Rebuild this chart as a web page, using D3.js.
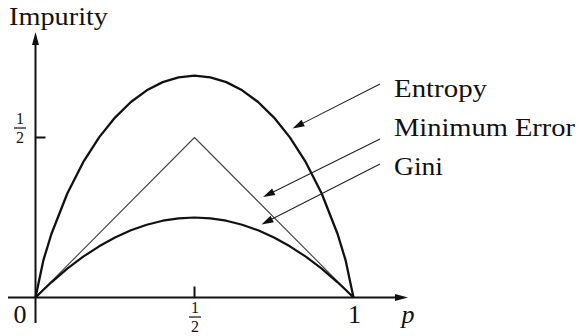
<!DOCTYPE html>
<html>
<head>
<meta charset="utf-8">
<script src="https://cdn.jsdelivr.net/npm/d3@7"></script>
<style>
  html, body { margin: 0; padding: 0; background: #fff; }
  svg { display: block; }
</style>
</head>
<body>
<svg id="chart" width="578" height="336"></svg>
<script>
// Probability of class 1
const pValues = [0, 0.025, 0.05, 0.1, 0.15, 0.2, 0.25, 0.3, 0.35, 0.4, 0.45, 0.5,
                 0.55, 0.6, 0.65, 0.7, 0.75, 0.8, 0.85, 0.9, 0.95, 0.975, 1];
// Entropy impurity (nats)
const entropyValues = [0, 0.1169, 0.1985, 0.3251, 0.4227, 0.5004, 0.5623, 0.6109, 0.6474, 0.6730, 0.6881, 0.6931,
                       0.6881, 0.6730, 0.6474, 0.6109, 0.5623, 0.5004, 0.4227, 0.3251, 0.1985, 0.1169, 0];
// Gini impurity
const giniValues = [0, 0.0244, 0.0475, 0.09, 0.1275, 0.16, 0.1875, 0.21, 0.2275, 0.24, 0.2475, 0.25,
                    0.2475, 0.24, 0.2275, 0.21, 0.1875, 0.16, 0.1275, 0.09, 0.0475, 0.0244, 0];
// Minimum (misclassification) error
const errorP = [0, 0.5, 1];
const errorValues = [0, 0.5, 0];

const seriesNames = ["Entropy", "Minimum Error", "Gini"];
const axisTitleY = "Impurity";
const axisTitleX = "p";

const FONT = "Liberation Serif";

const svg = d3.select("#chart");

const x = d3.scaleLinear().domain([0, 1]).range([35.5, 353.5]);
const y = d3.scaleLinear().domain([0, 0.5]).range([297.5, 137.5]);

function arrowHead(g, x1, y1, x2, y2, len, half) {
  const dx = x2 - x1, dy = y2 - y1, L = Math.hypot(dx, dy);
  const ux = dx / L, uy = dy / L;
  const bx = x2 - ux * len, by = y2 - uy * len;
  g.append("path")
    .attr("d", `M${x2},${y2}L${bx - uy * half},${by + ux * half}L${bx + uy * half},${by - ux * half}Z`)
    .attr("fill", "#111");
}

function label(g, xPos, yPos, size, str) {
  return g.append("text").attr("x", xPos).attr("y", yPos)
    .attr("font-family", FONT).attr("font-size", size).attr("fill", "#111").text(str);
}

// Axes
const axes = svg.append("g");
const xEnd = 408, yTop = 32;
axes.append("line").attr("x1", 8).attr("x2", xEnd - 8).attr("y1", y(0)).attr("y2", y(0))
  .attr("stroke", "#111").attr("stroke-width", 2);
arrowHead(axes, 8, y(0), xEnd, y(0), 13, 3.5);
axes.append("line").attr("x1", x(0)).attr("x2", x(0)).attr("y1", 323).attr("y2", yTop + 8)
  .attr("stroke", "#111").attr("stroke-width", 2);
arrowHead(axes, x(0), 323, x(0), yTop, 13, 3.5);

// Ticks at one half
axes.append("line").attr("x1", x(0.5)).attr("x2", x(0.5)).attr("y1", y(0)).attr("y2", y(0) - 11)
  .attr("stroke", "#111").attr("stroke-width", 2);
axes.append("line").attr("x1", x(0)).attr("x2", x(0) + 10).attr("y1", y(0.5)).attr("y2", y(0.5))
  .attr("stroke", "#111").attr("stroke-width", 2);

function fraction(g, cx, barY) {
  label(g, cx, barY - 4, 16, "1").attr("text-anchor", "middle");
  g.append("line").attr("x1", cx - 6).attr("x2", cx + 6).attr("y1", barY).attr("y2", barY)
    .attr("stroke", "#111").attr("stroke-width", 1.2);
  label(g, cx, barY + 15, 16, "2").attr("text-anchor", "middle");
}
fraction(axes, x(0.5) + 0.5, 317);
fraction(axes, 20, 128);

label(axes, 20, 323, 26, "0").attr("text-anchor", "middle");
label(axes, x(1) + 1, 323, 26, "1").attr("text-anchor", "middle");
label(axes, 408, 323, 26, axisTitleX).attr("text-anchor", "middle").attr("font-style", "italic");
label(axes, 9, 25, 26, axisTitleY)
  .attr("textLength", 99).attr("lengthAdjust", "spacingAndGlyphs");

// Curves
const line = d3.line().x(d => x(d[0])).y(d => y(d[1]));
const curves = svg.append("g").attr("fill", "none").attr("stroke-linejoin", "round");
curves.append("path").datum(errorP.map((p, i) => [p, errorValues[i]]))
  .attr("d", line).attr("stroke", "#444").attr("stroke-width", 1.1);
curves.append("path").datum(pValues.map((p, i) => [p, giniValues[i]]))
  .attr("d", line).attr("stroke", "#111").attr("stroke-width", 2.2);
curves.append("path").datum(pValues.map((p, i) => [p, entropyValues[i]]))
  .attr("d", line).attr("stroke", "#111").attr("stroke-width", 2.3);

// Labels with pointer arrows
const labels = [
  { name: seriesNames[0], ty: 97, w: 93, from: [380, 84], to: [292.5, 128.5] },
  { name: seriesNames[1], ty: 136, w: 181, from: [380, 139], to: [263, 197] },
  { name: seriesNames[2], ty: 175, w: 49, from: [380, 164], to: [261.5, 224.5] }
];
const ann = svg.append("g");
labels.forEach(d => {
  label(ann, 394, d.ty, 26, d.name)
    .attr("textLength", d.w).attr("lengthAdjust", "spacingAndGlyphs");
  const dx = d.to[0] - d.from[0], dy = d.to[1] - d.from[1], L = Math.hypot(dx, dy);
  ann.append("line").attr("x1", d.from[0]).attr("y1", d.from[1])
    .attr("x2", d.to[0] - dx / L * 8).attr("y2", d.to[1] - dy / L * 8)
    .attr("stroke", "#222").attr("stroke-width", 1.1);
  arrowHead(ann, d.from[0], d.from[1], d.to[0], d.to[1], 12, 3.6);
});
</script>
</body>
</html>
